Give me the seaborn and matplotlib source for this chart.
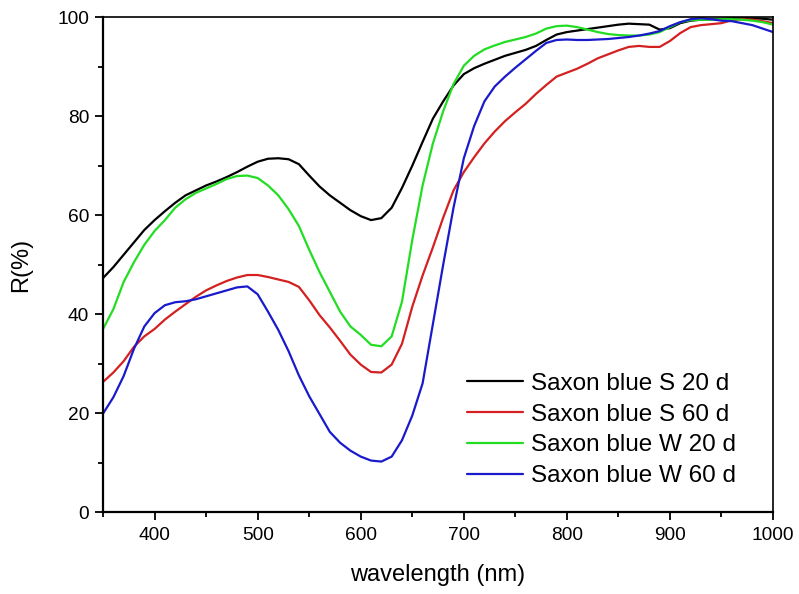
import numpy as np
import pandas as pd
import matplotlib
matplotlib.use("Agg")
import matplotlib.pyplot as plt
import seaborn as sns
from matplotlib.ticker import MultipleLocator

wavelength = list(range(350, 1001, 10))

s20 = [47.3, 49.5, 52, 54.5, 57, 59, 60.8, 62.5, 64, 65, 66, 66.8, 67.7, 68.7, 69.8, 70.8,
       71.4, 71.5, 71.3, 70.3, 68, 65.8, 64, 62.5, 61, 59.8, 59, 59.4, 61.5, 65.5, 70, 74.8,
       79.5, 83, 86.2, 88.5, 89.7, 90.6, 91.4, 92.2, 92.8, 93.4, 94.2, 95.4, 96.5, 97, 97.3,
       97.6, 97.9, 98.2, 98.5, 98.7, 98.6, 98.5, 97.5, 97.8, 98.8, 99.3, 99.5, 99.6, 99.7,
       99.8, 99.8, 99.8, 99.7, 99.5]
s60 = [26.3, 28.2, 30.5, 33.4, 35.5, 37, 38.9, 40.5, 42, 43.5, 44.8, 45.8, 46.7, 47.4, 47.9,
       47.9, 47.5, 47, 46.5, 45.5, 42.8, 39.8, 37.3, 34.6, 31.8, 29.8, 28.3, 28.2, 29.8, 34,
       41.5, 47.8, 53.5, 59.5, 65, 68.7, 71.7, 74.5, 76.9, 79, 80.8, 82.5, 84.5, 86.3, 88,
       88.8, 89.6, 90.6, 91.7, 92.5, 93.3, 94, 94.2, 94, 94, 95.2, 96.8, 98, 98.4, 98.6, 98.8,
       99.4, 99.6, 99.5, 99.2, 98.8]
w20 = [37, 41, 46.5, 50.5, 54, 56.8, 59, 61.5, 63.2, 64.5, 65.4, 66.3, 67.3, 67.9, 68, 67.5,
       66, 64, 61.2, 57.8, 53, 48.5, 44.5, 40.5, 37.5, 35.8, 33.8, 33.5, 35.5, 42.5, 55, 66,
       74.5, 81, 86.5, 90.2, 92.2, 93.5, 94.3, 95, 95.5, 96, 96.7, 97.7, 98.2, 98.3, 98, 97.5,
       97, 96.6, 96.4, 96.3, 96.3, 96.5, 97, 98, 99, 99.4, 99.5, 99.5, 99.6, 99.6, 99.5, 99.3,
       99, 98.5]
w60 = [19.9, 23.2, 27.5, 33, 37.5, 40.2, 41.8, 42.4, 42.6, 43, 43.6, 44.2, 44.8, 45.4, 45.6,
       44, 40.5, 36.8, 32.5, 27.6, 23.4, 19.8, 16.2, 14, 12.4, 11.2, 10.4, 10.2, 11.2, 14.5,
       19.5, 26, 38, 50, 61.5, 71.5, 78, 83, 86, 88, 89.8, 91.5, 93.2, 94.8, 95.4, 95.5, 95.4,
       95.4, 95.5, 95.6, 95.8, 96, 96.3, 96.7, 97.2, 98.2, 99, 99.6, 99.8, 99.6, 99.3, 99.2,
       98.8, 98.4, 97.7, 97]

labels = ["Saxon blue S 20 d", "Saxon blue S 60 d", "Saxon blue W 20 d", "Saxon blue W 60 d"]
colors = ["#000000", "#d42020", "#22dd22", "#1a1acc"]
series = [s20, s60, w20, w60]

df = pd.concat([pd.DataFrame({"wavelength": wavelength, "R": v, "sample": lab})
                for lab, v in zip(labels, series)], ignore_index=True)

sns.set_theme(style="ticks")
plt.rcParams['font.family'] = ['Liberation Sans', 'DejaVu Sans']
plt.rcParams['text.color'] = 'black'
plt.rcParams['axes.labelcolor'] = 'black'
plt.rcParams['xtick.color'] = 'black'
plt.rcParams['ytick.color'] = 'black'

fig = plt.figure(figsize=(7.99, 5.94), dpi=100)
ax = fig.add_axes([0.129, 0.138, 0.8385, 0.833])

sns.lineplot(data=df, x="wavelength", y="R", hue="sample", palette=dict(zip(labels, colors)),
             hue_order=labels, linewidth=1.6, ax=ax, legend=True)

ax.set_xlim(350, 1000)
ax.set_ylim(0, 100)
ax.xaxis.set_major_locator(MultipleLocator(100))
ax.xaxis.set_minor_locator(MultipleLocator(50))
ax.yaxis.set_major_locator(MultipleLocator(20))
ax.yaxis.set_minor_locator(MultipleLocator(10))
ax.tick_params(which="major", direction="out", length=6, width=1.3, labelsize=13.8,
               colors="black", labelcolor="black")
ax.tick_params(axis="x", which="major", pad=5)
ax.tick_params(axis="y", which="major", pad=4)
ax.tick_params(which="minor", direction="out", length=3.5, width=1.3)
for side in ["left", "bottom"]:
    ax.spines[side].set_linewidth(1.6)
for side in ["top", "right"]:
    ax.spines[side].set_linewidth(1.2)
    ax.spines[side].set_visible(True)
for sp in ax.spines.values():
    sp.set_color("black")

ax.set_xlabel("wavelength (nm)", fontsize=17, labelpad=14, color="black")
ax.set_ylabel("R(%)", fontsize=17, labelpad=18, color="black")

leg = ax.legend(loc="center left", bbox_to_anchor=(467 / 799, (594 - 430) / 594),
                bbox_transform=fig.transFigure, frameon=False, fontsize=17.5,
                handlelength=2.3, handletextpad=0.35, labelspacing=0.36, borderpad=0,
                borderaxespad=0)
for line in leg.get_lines():
    line.set_linewidth(1.6)
for t in leg.get_texts():
    t.set_color("black")

fig.savefig("out.png", dpi=100)
